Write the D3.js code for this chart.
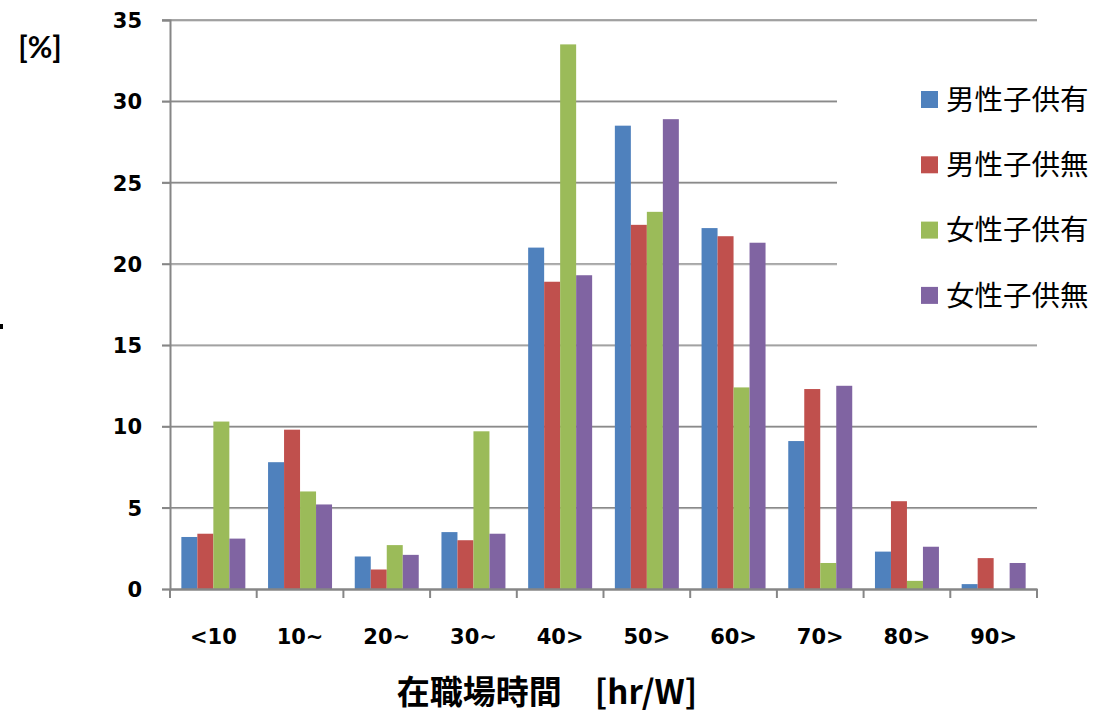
<!DOCTYPE html>
<html>
<head>
<meta charset="utf-8">
<script src="https://cdn.jsdelivr.net/npm/d3@7"></script>
<style>
  html, body { margin: 0; padding: 0; background: #fff; }
  svg { display: block; }
  .num { font-family: "DejaVu Sans", sans-serif; font-weight: bold; font-size: 21px; fill: #000; }
  .cjk { font-family: "Noto Sans CJK JP", sans-serif; fill: #000; }
</style>
</head>
<body>
<svg id="chart" width="1099" height="716"></svg>
<script>
// Working hours per week, share of respondents [%]
const categories = ["<10", "10~", "20~", "30~", "40>", "50>", "60>", "70>", "80>", "90>"];
const seriesNames = ["男性子供有", "男性子供無", "女性子供有", "女性子供無"];
const menWithChildren      = [3.2, 7.8, 2.0, 3.5, 21.0, 28.5, 22.2, 9.1, 2.3, 0.3];
const menWithoutChildren   = [3.4, 9.8, 1.2, 3.0, 18.9, 22.4, 21.7, 12.3, 5.4, 1.9];
const womenWithChildren    = [10.3, 6.0, 2.7, 9.7, 33.5, 23.2, 12.4, 1.6, 0.5, 0];
const womenWithoutChildren = [3.1, 5.2, 2.1, 3.4, 19.3, 28.9, 21.3, 12.5, 2.6, 1.6];
const yTicks = [0, 5, 10, 15, 20, 25, 30, 35];
const colors = ["#4F81BD", "#C0504D", "#9BBB59", "#8064A2"];

const seriesValues = [menWithChildren, menWithoutChildren, womenWithChildren, womenWithoutChildren];
const rows = categories.map((c, i) => ({
  category: c,
  values: seriesNames.map((s, k) => ({ series: s, value: seriesValues[k][i] }))
}));

const svg = d3.select("#chart");
const plotLeft = 170, plotRight = 1037, plotTop = 20, plotBottom = 589;

const x0 = d3.scaleBand().domain(categories).range([plotLeft, plotRight]).padding(0);
const x1 = d3.scaleBand().domain(seriesNames).range([0, x0.bandwidth()])
  .paddingInner(0).paddingOuter(0.71);
const y = d3.scaleLinear().domain([0, 35]).range([plotBottom, plotTop]);
const color = d3.scaleOrdinal().domain(seriesNames).range(colors);

// horizontal gridlines (with soft lower edge)
const grid = svg.append("g");
yTicks.filter(t => t > 0).forEach(t => {
  grid.append("line").attr("x1", plotLeft - 8).attr("x2", plotRight)
    .attr("y1", y(t) + 1).attr("y2", y(t) + 1)
    .attr("stroke", "#c4c4c4").attr("stroke-width", 1);
  grid.append("line").attr("x1", plotLeft - 8).attr("x2", plotRight)
    .attr("y1", y(t)).attr("y2", y(t))
    .attr("stroke", "#8a8a8a").attr("stroke-width", 1.4);
});

// bars
const groups = svg.append("g").selectAll("g").data(rows).join("g")
  .attr("transform", d => `translate(${x0(d.category)},0)`);
groups.selectAll("rect").data(d => d.values).join("rect")
  .attr("x", d => x1(d.series))
  .attr("width", x1.bandwidth())
  .attr("y", d => y(d.value))
  .attr("height", d => y(0) - y(d.value))
  .attr("fill", d => color(d.series));

// y axis
const yAxis = svg.append("g").attr("transform", `translate(${plotLeft},0)`)
  .call(d3.axisLeft(y).tickValues(yTicks).tickSize(8).tickPadding(20));
yAxis.select(".domain").attr("stroke", "#868686").attr("stroke-width", 2);
yAxis.selectAll(".tick line").attr("stroke", "#868686").attr("stroke-width", 1.5);
yAxis.selectAll(".tick text").attr("class", "num").attr("dy", "0.36em");

// x axis
const xAxis = svg.append("g").attr("transform", `translate(0,${plotBottom})`)
  .call(d3.axisBottom(x0).tickSize(0).tickPadding(40));
xAxis.select(".domain").attr("stroke", "#868686").attr("stroke-width", 2.5);
xAxis.selectAll(".tick text").attr("class", "num");
const boundaries = categories.map(c => x0(c)).concat([plotRight]);
xAxis.selectAll(".bound").data(boundaries).join("line")
  .attr("class", "bound")
  .attr("x1", d => d).attr("x2", d => d)
  .attr("y1", 0).attr("y2", 9)
  .attr("stroke", "#868686").attr("stroke-width", 2);

// legend
const legend = svg.append("g");
legend.append("rect").attr("x", 837).attr("y", 50).attr("width", 262).attr("height", 280).attr("fill", "#fff");
seriesNames.forEach((s, i) => {
  const cy = 99.5 + i * 65.3;
  legend.append("rect").attr("x", 921).attr("y", cy - 8.5).attr("width", 17).attr("height", 17)
    .attr("fill", color(s));
  legend.append("text").attr("class", "cjk").attr("x", 946).attr("y", cy)
    .attr("dy", "0.36em").style("font-size", "28.5px").text(s);
});

// axis titles
svg.append("text").attr("x", 40).attr("y", 47)
  .attr("text-anchor", "middle").attr("dy", "0.36em")
  .style("font-family", "Lato, sans-serif").style("font-weight", "bold").style("font-size", "30px")
  .text("[%]");
svg.append("text").attr("class", "cjk").attr("x", 547).attr("y", 704)
  .attr("text-anchor", "middle").style("font-weight", "bold").style("font-size", "33px")
  .text("在職場時間　[hr/W]");

// small mark at the left edge
svg.append("rect").attr("x", 0).attr("y", 324).attr("width", 3).attr("height", 5).attr("fill", "#000");
</script>
</body>
</html>
